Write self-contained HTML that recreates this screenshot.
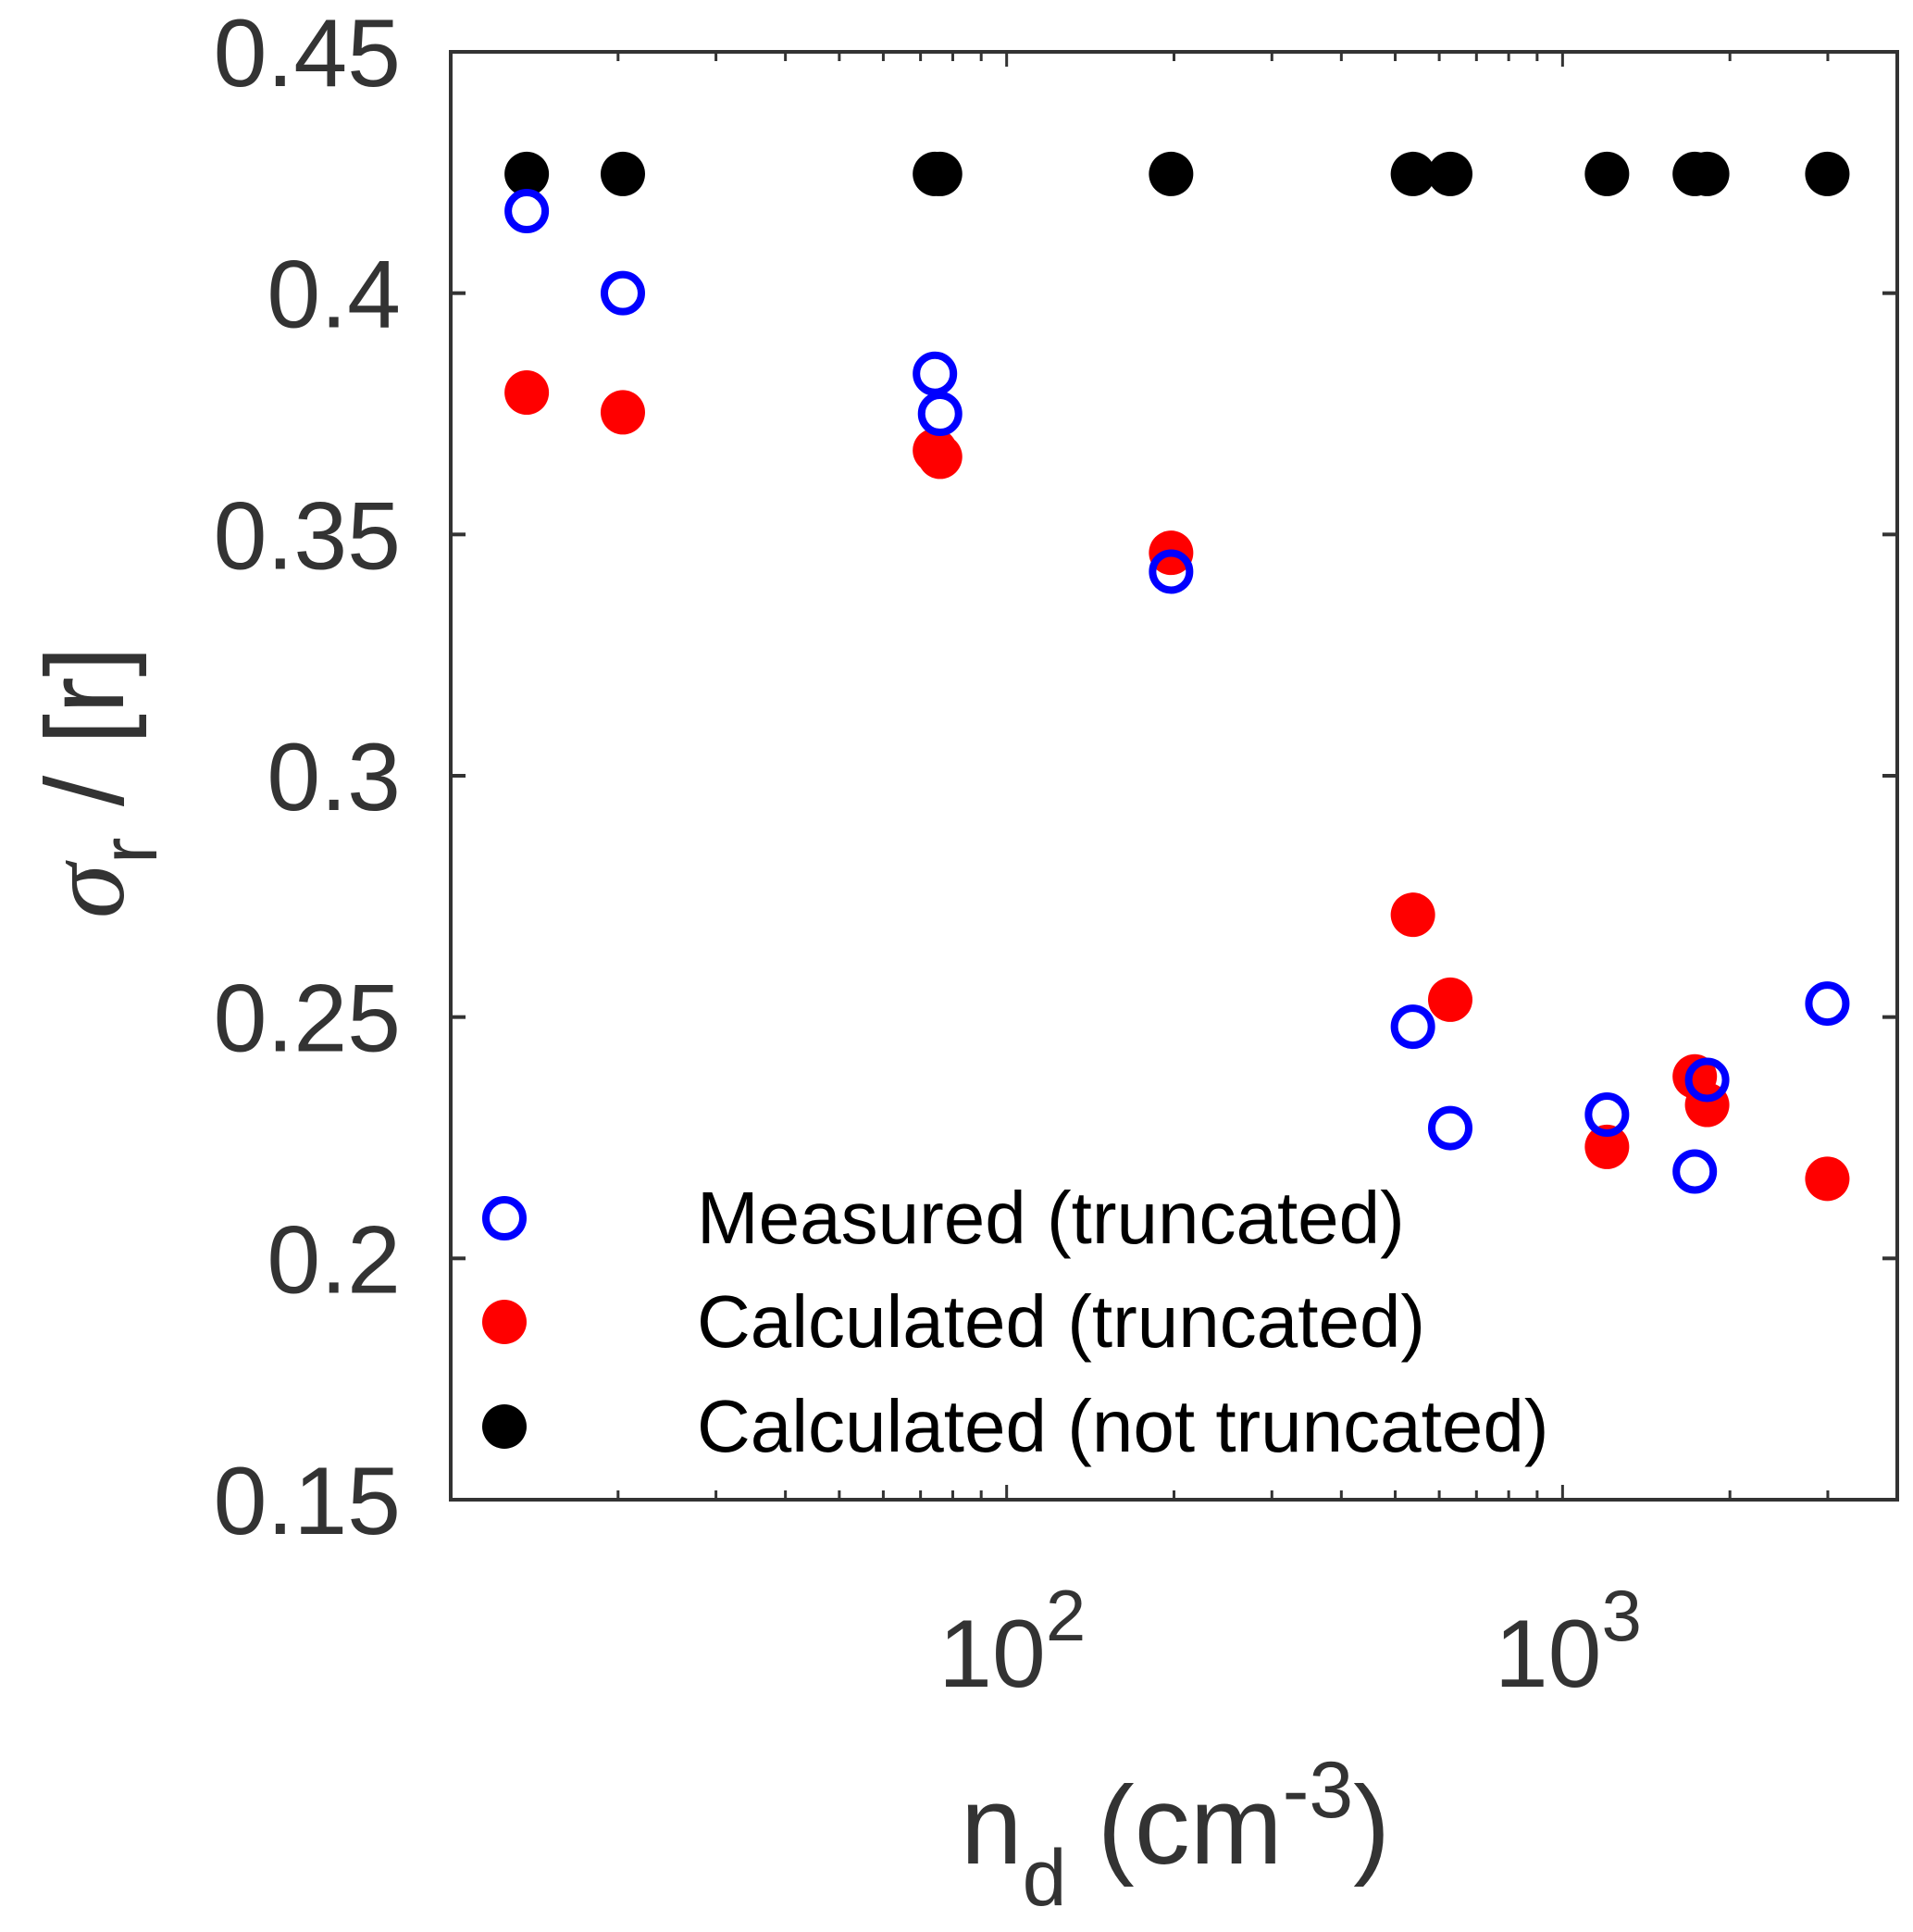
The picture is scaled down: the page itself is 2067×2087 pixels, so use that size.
<!DOCTYPE html>
<html><head><meta charset="utf-8"><style>
html,body{margin:0;padding:0;background:#fff;}
svg{display:block;font-family:"Liberation Sans",sans-serif;}
</style></head><body>
<svg id="chart" width="2067" height="2087" viewBox="0 0 2067 2087" xmlns="http://www.w3.org/2000/svg">
<rect x="0" y="0" width="2067" height="2087" fill="#fff"/>
<g id="marks"></g>
<rect x="487" y="56" width="1563" height="1564" fill="none" stroke="#333" stroke-width="4"/>
<g id="ticks"></g>
<g id="labels" fill="#333" font-size="104"></g>
<text x="1270" y="2013" font-size="120" fill="#333" text-anchor="middle">n<tspan font-size="86" dy="45">d</tspan><tspan dy="-45"> (cm</tspan><tspan font-size="86" dy="-50">-3</tspan><tspan dy="50">)</tspan></text>
<text transform="translate(133,845) rotate(-90)" font-size="120" fill="#333" text-anchor="middle"><tspan font-family="Liberation Serif" font-style="italic">σ</tspan><tspan font-size="86" dy="36">r</tspan><tspan dy="-36"> / [r]</tspan></text>
<g id="legend">
<circle cx="545" cy="1316" r="20" fill="none" stroke="#0000ff" stroke-width="8"/>
<text x="753" y="1343" font-size="80" fill="#000">Measured (truncated)</text>
<circle cx="545" cy="1428" r="24" fill="#ff0000"/>
<text x="753" y="1455" font-size="80" fill="#000">Calculated (truncated)</text>
<circle cx="545" cy="1541" r="24" fill="#000"/>
<text x="753" y="1568" font-size="80" fill="#000">Calculated (not truncated)</text>
</g>
</svg>
<script>
const xValues = [13.7, 20.4, 74.3, 75.9, 197.6, 538, 628, 1202, 1729, 1820, 2994];
const measured = [0.417, 0.400, 0.3833, 0.375, 0.3423, 0.248, 0.227, 0.2298, 0.218, 0.237, 0.2528];
const calcTrunc = [0.3794, 0.3753, 0.3674, 0.3661, 0.3462, 0.2712, 0.2536, 0.2231, 0.2377, 0.2318, 0.2165];
const calcNotTrunc = [0.4247, 0.4247, 0.4247, 0.4247, 0.4247, 0.4247, 0.4247, 0.4247, 0.4247, 0.4247, 0.4247];
const yTicks = [0.15, 0.2, 0.25, 0.3, 0.35, 0.4, 0.45];
const yTickLabels = ["0.15", "0.2", "0.25", "0.3", "0.35", "0.4", "0.45"];
const xMajor = [100, 1000];
const xMajorExp = ["2", "3"];

const X0 = 487, X1 = 2050, Y0 = 56, Y1 = 1620;
const xMin = 10, xMax = 4000, yMin = 0.15, yMax = 0.45;
const NS = "http://www.w3.org/2000/svg";
function sx(v){ return X0 + (Math.log10(v) - Math.log10(xMin)) / (Math.log10(xMax) - Math.log10(xMin)) * (X1 - X0); }
function sy(v){ return Y1 - (v - yMin) / (yMax - yMin) * (Y1 - Y0); }
function mk(tag, attrs){ const e = document.createElementNS(NS, tag); for (const k in attrs) e.setAttribute(k, attrs[k]); return e; }

const marks = document.getElementById('marks');
calcNotTrunc.forEach((v, i) => {
  const c = mk('circle', {cx: sx(xValues[i]), cy: sy(v), r: 24, fill: '#000'});
  
  
  marks.appendChild(c);
});
calcTrunc.forEach((v, i) => {
  const c = mk('circle', {cx: sx(xValues[i]), cy: sy(v), r: 24, fill: '#ff0000'});
  
  
  marks.appendChild(c);
});
measured.forEach((v, i) => {
  const c = mk('circle', {cx: sx(xValues[i]), cy: sy(v), r: 20, fill: 'none', stroke: '#0000ff', 'stroke-width': 8});
  
  
  marks.appendChild(c);
});

const ticks = document.getElementById('ticks');
const labels = document.getElementById('labels');
yTicks.forEach((v, i) => {
  const y = sy(v);
  const t1 = mk('line', {x1: X0, x2: X0 + 16, y1: y, y2: y, stroke: '#333', 'stroke-width': 4});
  
  
  ticks.appendChild(t1);
  const t2 = mk('line', {x1: X1, x2: X1 - 16, y1: y, y2: y, stroke: '#333', 'stroke-width': 4});
  
  
  ticks.appendChild(t2);
  const tx = mk('text', {x: 433, y: y + 37, 'text-anchor': 'end'});
  tx.textContent = yTickLabels[i];
  
  
  labels.appendChild(tx);
});
for (let d = 10; d < xMax; d *= 10) {
  for (let m = 1; m < 10; m++) {
    const v = d * m;
    if (v <= xMin || v >= xMax) continue;
    const x = sx(v);
    const len = (m === 1) ? 16 : 10;
    const b = mk('line', {x1: x, x2: x, y1: Y1, y2: Y1 - len, stroke: '#333', 'stroke-width': 3});
    
    
    ticks.appendChild(b);
    const t = mk('line', {x1: x, x2: x, y1: Y0, y2: Y0 + len, stroke: '#333', 'stroke-width': 3});
    
    
    ticks.appendChild(t);
  }
}
xMajor.forEach((v, i) => {
  const tx = mk('text', {x: sx(v) + 6, y: 1822, 'text-anchor': 'middle', 'font-size': 104});
  
  
  const a = document.createElementNS(NS, 'tspan'); a.textContent = '10';
  const b = document.createElementNS(NS, 'tspan'); b.setAttribute('font-size', '78'); b.setAttribute('dy', '-50'); b.textContent = xMajorExp[i];
  tx.appendChild(a); tx.appendChild(b);
  labels.appendChild(tx);
});
</script>
</body></html>
